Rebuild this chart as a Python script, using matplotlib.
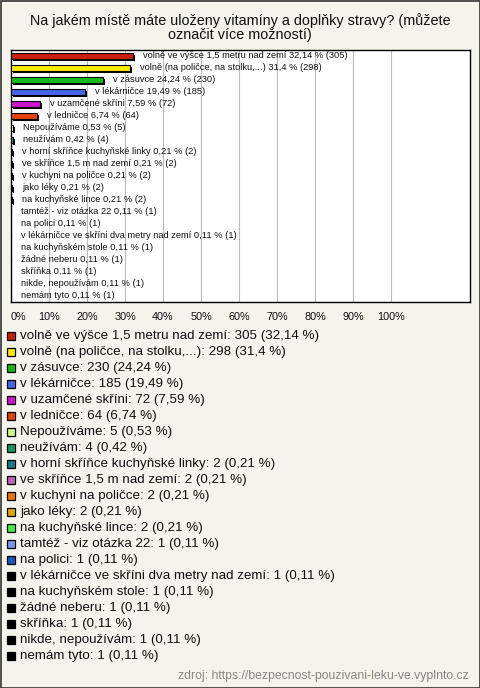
import matplotlib
matplotlib.use("Agg")
import matplotlib.pyplot as plt
import matplotlib.transforms as mtransforms
from matplotlib.patches import Rectangle

plt.rcParams['font.family'] = ['Liberation Sans', 'DejaVu Sans']

title = "Na jakém místě máte uloženy vitamíny a doplňky stravy? (můžete\noznačit více možností)"
source = "zdroj: https://bezpecnost-pouzivani-leku-ve.vyplnto.cz"

labels = [
    "volně ve výšce 1,5 metru nad zemí",
    "volně (na poličce, na stolku,...)",
    "v zásuvce",
    "v lékárničce",
    "v uzamčené skříni",
    "v ledničce",
    "Nepoužíváme",
    "neužívám",
    "v horní skříňce kuchyňské linky",
    "ve skříňce 1,5 m nad zemí",
    "v kuchyni na poličce",
    "jako léky",
    "na kuchyňské lince",
    "tamtéž - viz otázka 22",
    "na polici",
    "v lékárničce ve skříni dva metry nad zemí",
    "na kuchyňském stole",
    "žádné neberu",
    "skříňka",
    "nikde, nepoužívám",
    "nemám tyto",
]
counts = [305, 298, 230, 185, 72, 64, 5, 4, 2, 2, 2, 2, 2, 1, 1, 1, 1, 1, 1, 1, 1]
percents = [32.14, 31.4, 24.24, 19.49, 7.59, 6.74, 0.53, 0.42, 0.21, 0.21, 0.21,
            0.21, 0.21, 0.11, 0.11, 0.11, 0.11, 0.11, 0.11, 0.11, 0.11]
colors = ['#c8200c', '#ffec00', '#14bb14', '#4466ee', '#cc14cc', '#e8420f',
          '#ccff88', '#149966', '#1f7790', '#bb66bb', '#ee7700', '#ddaa00',
          '#44ee44', '#7799e6', '#2255bb', '#000000', '#000000', '#000000',
          '#000000', '#000000', '#000000']
ticks = [0, 10, 20, 30, 40, 50, 60, 70, 80, 90, 100]


def fmt(p):
    return f"{p:g}".replace('.', ',')


W, H = 480, 688
fig = plt.figure(figsize=(W / 100, H / 100), dpi=100)
bg = '#f4f3ec'
fig.patch.set_facecolor(bg)

# pixel-space background axes for frame, title, legend, source
base = fig.add_axes([0, 0, 1, 1], zorder=0)
base.set_xlim(0, W)
base.set_ylim(H, 0)
base.axis('off')
base.add_patch(Rectangle((0.5, 0.5), W - 1, H - 1, fill=False, edgecolor='#333333', lw=1.2))
base.text(W / 2, 28, title, ha='center', va='center', fontsize=10.4, color='#111111',
          linespacing=1.0)

# legend
for i, (lab, c, p, col) in enumerate(zip(labels, counts, percents, colors)):
    y = 336 + 16 * i
    base.add_patch(Rectangle((7, y - 4), 7.5, 7.5, facecolor=col, edgecolor='black', lw=0.9))
    base.text(20, y, f"{lab}: {c} ({fmt(p)} %)", ha='left', va='center', fontsize=9.6,
              color='#111111')

base.text(469, 676, source, ha='right', va='center', fontsize=8.8, color='#888888')

# main chart
ax = fig.add_axes([11 / W, 1 - 302 / H, 459 / W, 252 / H], zorder=1)
ax.set_facecolor('white')
ax.set_xlim(0, 120.8)
ax.set_ylim(len(labels) - 0.5, -0.5)
for t in ticks[1:]:
    ax.axvline(t, color='#bbbbbb', lw=0.8, zorder=0)

ypos = list(range(len(labels)))
shadow = mtransforms.offset_copy(ax.transData, fig=fig, x=2, y=-1.5, units='dots')
ax.barh(ypos, percents, height=0.5, color='black', transform=shadow, zorder=2)
ax.barh(ypos, percents, height=0.5, color=colors, edgecolor='black', lw=0.8, zorder=3)

for y, lab, c, p in zip(ypos, labels, counts, percents):
    ax.annotate(f"{lab} {fmt(p)} % ({c})", (p, y), xytext=(10, 0),
                textcoords='offset pixels', ha='left', va='center', fontsize=6.65,
                color='#111111', zorder=4)

ax.set_xticks(ticks)
ax.set_xticklabels([f"{t}%" for t in ticks], fontsize=7.8, color='#111111')
ax.get_xticklabels()[0].set_horizontalalignment('left')
ax.tick_params(axis='x', length=0, pad=7)
ax.set_yticks([])
for s in ax.spines.values():
    s.set_color('black')
    s.set_linewidth(1)

fig.savefig('out.png', dpi=100, facecolor=fig.get_facecolor())
